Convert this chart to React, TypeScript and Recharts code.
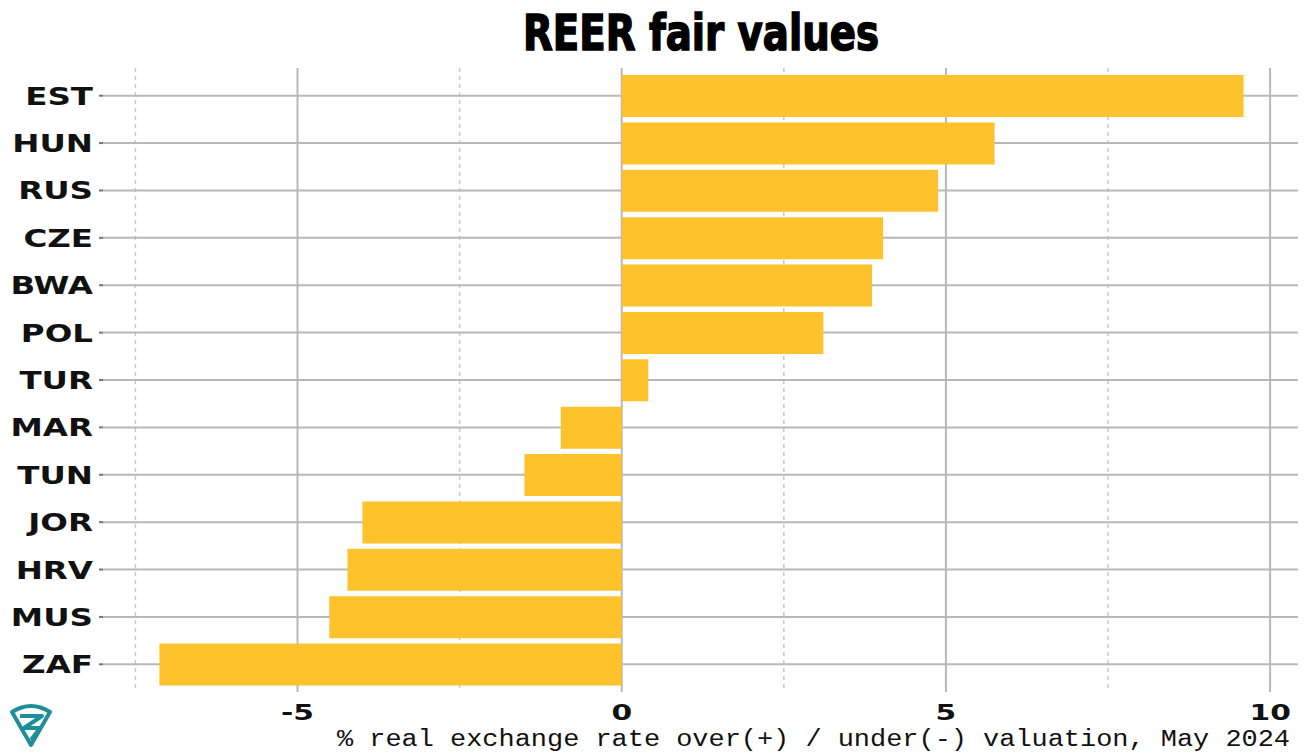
import { BarChart, Bar, XAxis, YAxis, CartesianGrid } from 'recharts';

// country codes, top to bottom
const countries = ['EST', 'HUN', 'RUS', 'CZE', 'BWA', 'POL', 'TUR', 'MAR', 'TUN', 'JOR', 'HRV', 'MUS', 'ZAF'];
// % over(+) / under(-) valuation
const valuation = [9.59, 5.75, 4.88, 4.03, 3.86, 3.11, 0.41, -0.94, -1.5, -4.0, -4.23, -4.51, -7.13];
const majorTicks = [-5, 0, 5, 10];
const minorTicks = [-7.5, -2.5, 2.5, 7.5];

const data = countries.map((name, i) => ({ name, value: valuation[i] }));

const YTick = (props: any) => {
  const { x, y, payload } = props;
  return (
    <text
      transform={`translate(${x - 4},${y + 9}) scale(1.3,1)`}
      textAnchor="end"
      fontFamily="DejaVu Sans"
      fontWeight="bold"
      fontSize={25}
      fill="#111"
    >
      {payload.value}
    </text>
  );
};

const XTick = (props: any) => {
  const { x, y, payload } = props;
  return (
    <text
      transform={`translate(${x},${y + 28}) scale(1.35,1)`}
      textAnchor="middle"
      fontFamily="DejaVu Sans"
      fontWeight="bold"
      fontSize={22}
      fill="#111"
    >
      {payload.value}
    </text>
  );
};

export default function App() {
  return (
    <div style={{ position: 'absolute', left: 0, top: 0, width: 1311, height: 753, background: '#fff' }}>
      <BarChart
        width={1311}
        height={753}
        data={data}
        layout="vertical"
        margin={{ top: 68, right: 13, bottom: 31, left: 0 }}
      >
        <CartesianGrid xAxisId="minor" horizontal={false} syncWithTicks stroke="#c8c8c8" strokeDasharray="4 4" strokeWidth={1.5} />
        <CartesianGrid xAxisId="main" syncWithTicks stroke="#b8b8b8" strokeWidth={2} />
        <XAxis
          xAxisId="minor"
          type="number"
          domain={[-8, 10.43]}
          allowDataOverflow
          ticks={minorTicks}
          hide
        />
        <XAxis
          xAxisId="main"
          type="number"
          domain={[-8, 10.43]}
          allowDataOverflow
          ticks={majorTicks}
          axisLine={false}
          tickLine={false}
          tickSize={0}
          tickMargin={0}
          height={30}
          tick={<XTick />}
          interval={0}
        />
        <YAxis
          type="category"
          dataKey="name"
          width={103}
          axisLine={false}
          tickLine={{ stroke: '#777', strokeWidth: 2 }}
          tickSize={4}
          tickMargin={2}
          padding={{ top: 4, bottom: 4 }}
          tick={<YTick />}
          interval={0}
        />
        <Bar xAxisId="main" dataKey="value" fill="#fdc22c" barSize={42} isAnimationActive={false} />
      </BarChart>
      <svg width={1311} height={753} style={{ position: 'absolute', left: 0, top: 0, pointerEvents: 'none' }}>
        <text
          x={701}
          y={50}
          textAnchor="middle"
          fontFamily="'DejaVu Sans Condensed', 'DejaVu Sans'"
          fontWeight="bold"
          fontSize={50}
          textLength={356}
          lengthAdjust="spacingAndGlyphs"
          fill="#000"
          stroke="#000"
          strokeWidth={1.5}
        >
          REER fair values
        </text>
        <text
          x={1290}
          y={746}
          textAnchor="end"
          fontFamily="'Liberation Mono'"
          fontSize={23}
          textLength={953}
          lengthAdjust="spacingAndGlyphs"
          fill="#111"
        >
          % real exchange rate over(+) / under(-) valuation, May 2024
        </text>
        <g fill="none" stroke="#1e8f98" strokeWidth={4} strokeLinejoin="round">
          <path d="M12 712 Q31 700 50 712 L31 745 Z" />
          <path d="M20 716 L42 716 L24 728 L40 728 L31 740" />
        </g>
      </svg>
    </div>
  );
}
